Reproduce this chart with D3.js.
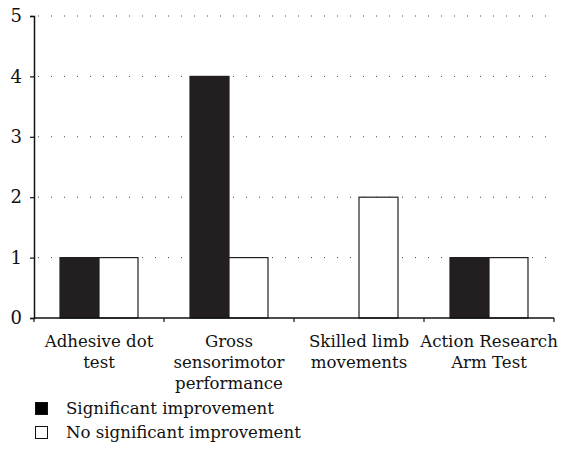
<!DOCTYPE html>
<html><head><meta charset="utf-8">
<script src="https://cdn.jsdelivr.net/npm/d3@7"></script>
<style>body{margin:0;background:#fff}</style>
</head><body><svg id="c" width="565" height="459"></svg>
<script>
const categories = [["Adhesive dot","test"],["Gross","sensorimotor","performance"],["Skilled limb","movements"],["Action Research","Arm Test"]];
const significant = [1, 4, 0, 1];
const notSignificant = [1, 1, 2, 1];
const seriesNames = ["Significant improvement", "No significant improvement"];
const yTicks = [0,1,2,3,4,5];

const svg = d3.select("#c");
const FONT = "DejaVu Serif";
const fs = 16.6;
const m = {l:34, r:11, t:16, b:141};
const W = 565, H = 459;
const x = d3.scaleBand().domain(d3.range(categories.length)).range([m.l, W-m.r]).paddingInner(0).paddingOuter(0);
const x1 = d3.scaleBand().domain([0,1]).range([0, x.bandwidth()]).paddingOuter(0.667).paddingInner(0);
const y = d3.scaleLinear().domain([0,5]).range([H-m.b, m.t]);
const dark = "#231f20";

// gridlines
svg.append("g").selectAll("line").data(yTicks.filter(d=>d>0)).join("line")
  .attr("x1", m.l+4).attr("x2", W-m.r+2).attr("y1", d=>y(d)).attr("y2", d=>y(d))
  .attr("stroke", "#444").attr("stroke-width", 1).attr("stroke-dasharray", "1,12");

// bars
const data = [];
categories.forEach((c,i)=>{ data.push({i, s:0, v:significant[i]}); data.push({i, s:1, v:notSignificant[i]}); });
svg.append("g").selectAll("rect").data(data.filter(d=>d.v>0)).join("rect")
  .attr("x", d=>x(d.i)+x1(d.s)).attr("width", x1.bandwidth())
  .attr("y", d=>y(d.v)).attr("height", d=>y(0)-y(d.v))
  .attr("fill", d=>d.s===0?dark:"#fff").attr("stroke", dark).attr("stroke-width", 1.2);

// y axis
const ya = svg.append("g").attr("transform", `translate(${m.l},0)`)
  .call(d3.axisLeft(y).tickValues(yTicks).tickSize(4).tickPadding(8).tickFormat(d3.format("d")));
ya.attr("font-family", FONT);
ya.select(".domain").attr("stroke", "#111").attr("stroke-width", 1.5);
ya.selectAll(".tick line").attr("stroke", "#111").attr("stroke-width", 1.2);
ya.selectAll("text").style("font-family", FONT).attr("font-size", 18).attr("fill", "#111");

// x axis
const xa = svg.append("g").attr("transform", `translate(0,${y(0)})`);
xa.append("line").attr("x1", m.l).attr("x2", W-m.r).attr("stroke", "#111").attr("stroke-width", 1.5);
xa.selectAll("line.t").data(d3.range(categories.length+1)).join("line").attr("class","t")
  .attr("x1", d=> d<categories.length ? x(d) : x(d-1)+x.bandwidth())
  .attr("x2", d=> d<categories.length ? x(d) : x(d-1)+x.bandwidth())
  .attr("y1", 0).attr("y2", 4).attr("stroke", "#111").attr("stroke-width", 1.2);
categories.forEach((lines,i)=>{
  const t = xa.append("text").attr("text-anchor","middle").style("font-family", FONT).attr("font-size", fs).attr("fill","#111");
  lines.forEach((ln,j)=>t.append("tspan").attr("x", x(i)+x.bandwidth()/2).attr("y", 29+j*21).text(ln));
});

// legend
const lg = svg.append("g");
seriesNames.forEach((n,k)=>{
  lg.append("rect").attr("x", 35.5).attr("y", 402.5+k*24).attr("width", 12).attr("height", 12)
    .attr("fill", k===0?"#000":"#fff").attr("stroke", "#111").attr("stroke-width", 1);
  lg.append("text").attr("x", 66).attr("y", 414+k*24).style("font-family", FONT).attr("font-size", fs).attr("fill","#111").text(n);
});
</script></body></html>
